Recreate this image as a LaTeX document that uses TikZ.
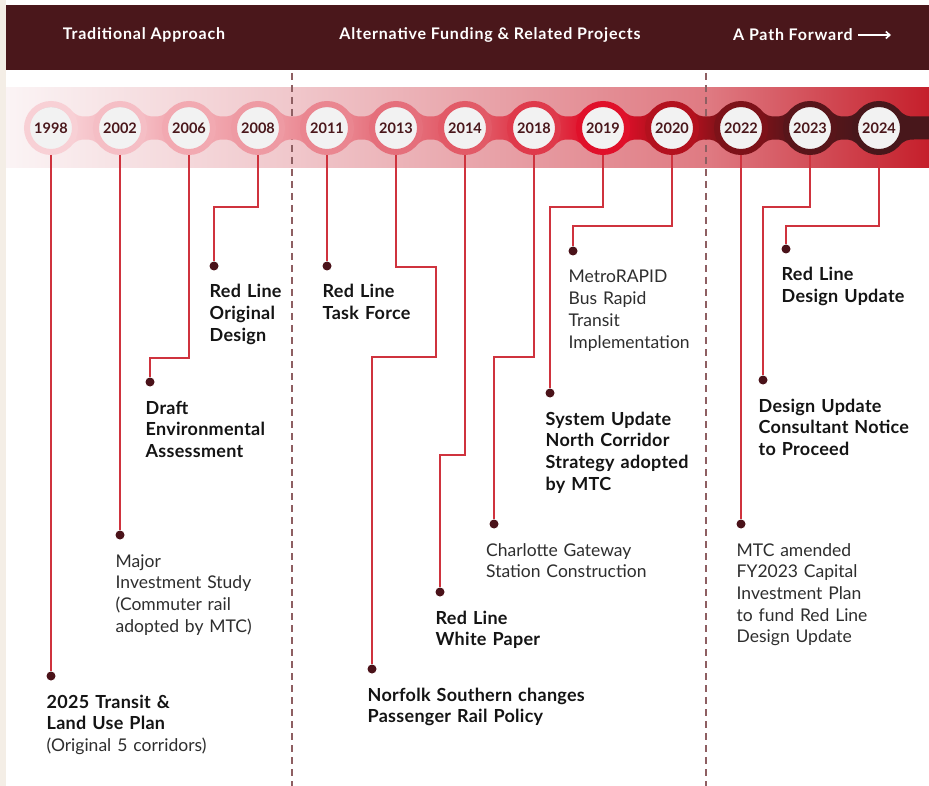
\documentclass[tikz,border=0pt]{standalone}
\usepackage{fontspec}
\setmainfont{Lato}
\usetikzlibrary{positioning, arrows.meta}

\definecolor{maroon}{HTML}{4A171B}
\definecolor{dotc}{HTML}{4A1219}
\definecolor{linkc}{HTML}{CF333E}
\definecolor{divc}{HTML}{8E5F62}
\definecolor{keyc}{HTML}{141414}
\definecolor{notec}{HTML}{2E2E2E}
\definecolor{innerc}{HTML}{F2F2F2}
\definecolor{beige}{HTML}{F4EEE6}
% band colours, left to right
\definecolor{bandA}{HTML}{FBF4F5}
\definecolor{bandB}{HTML}{F0C7CB}
\definecolor{bandC}{HTML}{DF7A82}
\definecolor{bandD}{HTML}{C51F2B}
% ring colours, one per year
\definecolor{r1998}{HTML}{F8D0D5}
\definecolor{r2002}{HTML}{F5BEC5}
\definecolor{r2006}{HTML}{F2A9B1}
\definecolor{r2008}{HTML}{EE9AA3}
\definecolor{r2011}{HTML}{EA8690}
\definecolor{r2013}{HTML}{E56F7B}
\definecolor{r2014}{HTML}{E25A67}
\definecolor{r2018}{HTML}{DF3A4B}
\definecolor{r2019}{HTML}{E0102A}
\definecolor{r2020}{HTML}{B3111E}
\definecolor{r2022}{HTML}{7D1219}
\definecolor{r2023}{HTML}{58151A}
\definecolor{r2024}{HTML}{48171B}

\pgfdeclarehorizontalshading{bandshade}{100bp}{color(0bp)=(bandA); color(25bp)=(bandA); color(40.5bp)=(bandB); color(63bp)=(bandC); color(75bp)=(bandD); color(100bp)=(bandD)}

\tikzset{
    year/.style={circle, minimum size=48pt, inner sep=0pt, line width=6pt, fill=innerc,
        path picture={\fill[black!14] (path picture bounding box.center) circle (24pt);
            \fill[innerc] ([yshift=-1.6pt]path picture bounding box.center) circle (22.4pt);},
        font=\fontsize{14.5}{14.5}\selectfont\bfseries, text=maroon}, % the year badges
    dot/.style={circle, fill=dotc, minimum size=9pt, inner sep=0pt},
    link/.style={draw=linkc, line width=1.4pt},
    note/.style={anchor=base west, xshift=-4.5pt, yshift=-32pt, inner sep=0pt, text width=250pt,
        align=left, font=\fontsize{17.5}{21.7}\selectfont, text=notec},
    key note/.style={note, font=\fontsize{18}{21.7}\selectfont\addfontfeature{LetterSpace=1.5}\bfseries, text=keyc},
    era/.style={text=white, inner sep=0pt, font=\fontsize{16}{18}\selectfont\addfontfeature{LetterSpace=5}\bfseries},
    divider/.style={draw=divc, line width=1.3pt, dash pattern=on 7pt off 5pt},
}

\begin{document}
\begin{tikzpicture}[x=1pt, y=-1pt, node distance=69pt]
\useasboundingbox (0,0) rectangle (929,786);
\fill[white] (0,0) rectangle (929,786);
\fill[beige] (0,0) rectangle (6,786);

% header
\fill[maroon] (6,5) rectangle (929,70);
\node[era] (trad) at (144,35) {Traditional Approach};
\node[era] (alt) at (490,35) {Alternative Funding \& Related Projects};
\node[era, anchor=west] (forward) at (733,35) {A Path Forward};
\coordinate (fwdtip) at (891,35);
\draw[white, line width=1.6pt, -{Straight Barb[length=4pt, width=7pt]}] ([xshift=5pt]forward.east) -- (fwdtip);

% band
\shade[shading=bandshade] (6,88) rectangle (929,168);
\draw[divider] (292,73) -- (292,786);
\draw[divider] (706,73) -- (706,786);

% necks between the badges
\foreach \x/\ca/\cb in {51/r1998/r2002, 120/r2002/r2006, 189/r2006/r2008, 258/r2008/r2011,
    327/r2011/r2013, 396/r2013/r2014, 465/r2014/r2018, 534/r2018/r2019, 603/r2019/r2020,
    672/r2020/r2022, 741/r2022/r2023, 810/r2023/r2024}
  \shade[left color=\ca, right color=\cb] (\x+19,109) .. controls (\x+25,116) and (\x+29,116.5) .. (\x+34.5,116.5)
    .. controls (\x+40,116.5) and (\x+44,116) .. (\x+50,109) -- (\x+50,147)
    .. controls (\x+44,140) and (\x+40,139.5) .. (\x+34.5,139.5)
    .. controls (\x+29,139.5) and (\x+25,140) .. (\x+19,147) -- cycle;
\fill[r2024] (898,109) .. controls (904,116) and (908,116.5) .. (914,116.5) -- (929,116.5)
    -- (929,139.5) -- (914,139.5) .. controls (908,139.5) and (904,140) .. (898,147) -- cycle;

% badges
\node[year, draw=r1998] (y1998) at (51,128) {1998};
\node[year, draw=r2002, right of=y1998] (y2002) {2002};
\node[year, draw=r2006, right of=y2002] (y2006) {2006};
\node[year, draw=r2008, right of=y2006] (y2008) {2008};
\node[year, draw=r2011, right of=y2008] (y2011) {2011};
\node[year, draw=r2013, right of=y2011] (y2013) {2013};
\node[year, draw=r2014, right of=y2013] (y2014) {2014};
\node[year, draw=r2018, right of=y2014] (y2018) {2018};
\node[year, draw=r2019, right of=y2018] (y2019) {2019};
\node[year, draw=r2020, right of=y2019] (y2020) {2020};
\node[year, draw=r2022, right of=y2020] (y2022) {2022};
\node[year, draw=r2023, right of=y2022] (y2023) {2023};
\node[year, draw=r2024, right of=y2023] (y2024) {2024};

% event dots
\node[dot] (d1998) at (51,676) {};
\node[dot] (d2002) at (120,535) {};
\node[dot] (d2006) at (150,382) {};
\node[dot] (d2008) at (214,266) {};
\node[dot] (d2011) at (327,266) {};
\node[dot] (d2013) at (372,669) {};
\node[dot] (d2014) at (440,592) {};
\node[dot] (d2018) at (494,524) {};
\node[dot] (d2019) at (550,393) {};
\node[dot] (d2020) at (573,251) {};
\node[dot] (d2022) at (741,524) {};
\node[dot] (d2023) at (763,380) {};
\node[dot] (d2024) at (786,249) {};

% links
\draw[link] (y1998) -- (d1998);
\draw[link] (y2002) -- (d2002);
\draw[link] (y2006.south) |- (150,358) -- (d2006);
\draw[link] (y2008.south) |- (214,207) -- (d2008);
\draw[link] (y2011) -- (d2011);
\draw[link] (y2013.south) |- (436,267) |- (372,357) -- (d2013);
\draw[link] (y2014.south) |- (440,455) -- (d2014);
\draw[link] (y2018.south) |- (494,357) -- (d2018);
\draw[link] (y2019.south) |- (550,207) -- (d2019);
\draw[link] (y2020.south) |- (573,226) -- (d2020);
\draw[link] (y2022) -- (d2022);
\draw[link] (y2023.south) |- (763,207) -- (d2023);
\draw[link] (y2024.south) |- (786,226) -- (d2024);

% event texts
\node[key note] (t1998) at (d1998) {2025 Transit \&\\Land Use Plan\\\fontsize{17.5}{21.7}\selectfont\addfontfeature{LetterSpace=0}\mdseries\color{notec}(Original 5 corridors)};
\node[note] (t2002) at (d2002) {Major\\Investment Study\\(Commuter rail\\adopted by MTC)};
\node[key note] (t2006) at (d2006) {Draft\\Environmental\\Assessment};
\node[key note] (t2008) at (d2008) {Red Line\\Original\\Design};
\node[key note] (t2011) at (d2011) {Red Line\\Task Force};
\node[key note] (t2013) at (d2013) {Norfolk Southern changes\\Passenger Rail Policy};
\node[key note] (t2014) at (d2014) {Red Line\\White Paper};
\node[note, xshift=-3.5pt] (t2018) at (d2018) {Charlotte Gateway\\Station Construction};
\node[key note] (t2019) at (d2019) {System Update\\North Corridor\\Strategy adopted\\by MTC};
\node[note] (t2020) at (d2020) {MetroRAPID\\Bus Rapid\\Transit\\Implementation};
\node[note] (t2022) at (d2022) {MTC amended\\FY2023 Capital\\Investment Plan\\to fund Red Line\\Design Update};
\node[key note] (t2023) at (d2023) {Design Update\\Consultant Notice\\to Proceed};
\node[key note] (t2024) at (d2024) {Red Line\\Design Update};
\end{tikzpicture}
\end{document}
